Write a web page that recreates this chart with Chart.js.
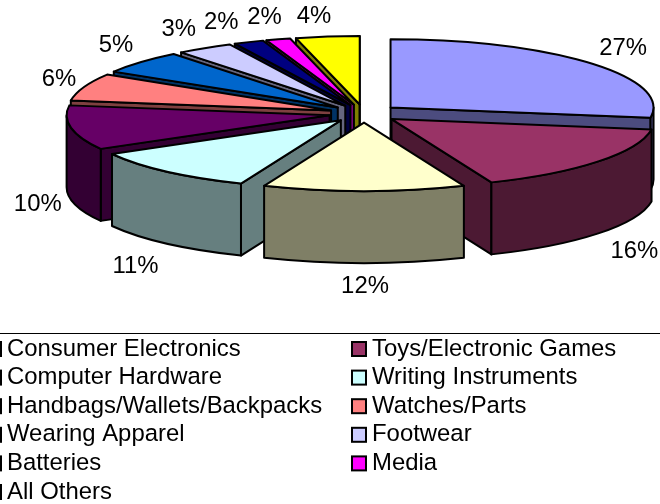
<!DOCTYPE html>
<html>
<head>
<meta charset="utf-8">
<style>
  html, body { margin: 0; padding: 0; background: #fff; }
  canvas { display: block; }
</style>
<script src="https://cdn.jsdelivr.net/npm/chart.js@4"></script>
</head>
<body>
<canvas id="chart" width="660" height="504" style="width:660px;height:504px"></canvas>
<script>
const categories = ['Consumer Electronics', 'Toys/Electronic Games', 'Computer Hardware', 'Writing Instruments',
    'Handbags/Wallets/Backpacks', 'Watches/Parts', 'Wearing Apparel', 'Footwear', 'Batteries', 'Media', 'All Others'];
const shares = [27.4, 16.4, 12.4, 10.6, 10.49, 6.49, 5.49, 3.48, 1.85, 1.5, 3.9];
const sliceColors = ['#9999FF', '#993366', '#FFFFCC', '#CCFFFF', '#660066', '#FF8080', '#0066CC', '#CCCCFF', '#000080', '#FF00FF', '#FFFF00'];

const FONT = '23.9px "Liberation Sans", Arial, sans-serif';
const TILT = 0.26;   // squash of the pie circle
const DEPTH = 72;    // height of the extrusion

// hand placed corrections to the percentage labels
const labelNudge = [[5, 0], [7, 4], [1, 1], [-7, 6], [3, 0], [10, 0], [3, -2], [-6, 0], [-13, 1], [-3, 0], [-9, 2]];

// side walls are the face colour at half brightness
const shade = hex => '#' + [1, 3, 5].map(i =>
    Math.floor(parseInt(hex.substr(i, 2), 16) / 2).toString(16).padStart(2, '0')).join('');

const pie3d = {
    id: 'pie3d',
    // takes over from the flat arcs, reading the geometry the controller worked out
    beforeDatasetsDraw(chart) {
        const { ctx } = chart;
        const arcs = chart.getDatasetMeta(0).data.map((arc, i) => {
            const { x, y, startAngle, endAngle, outerRadius } = arc.getProps(['x', 'y', 'startAngle', 'endAngle', 'outerRadius'], true);
            const mid = (startAngle + endAngle) / 2;
            const off = arc.options.offset;
            return { i, x: x + Math.cos(mid) * off, y: y + Math.sin(mid) * off * TILT, startAngle, endAngle, mid, r: outerRadius };
        });

        // back slices first, the front ones paint over them
        arcs.sort((a, b) => Math.sin(a.mid) - Math.sin(b.mid));

        ctx.save();
        ctx.lineWidth = 2;
        ctx.lineJoin = 'round';
        ctx.strokeStyle = '#000';
        arcs.forEach(a => {
            const face = sliceColors[a.i];
            const rim = t => [a.x + Math.cos(t) * a.r, a.y + Math.sin(t) * a.r * TILT];

            ctx.fillStyle = shade(face);
            // a cut face only shows when it turns towards us
            [[a.startAngle, Math.cos(a.startAngle) < 0], [a.endAngle, Math.cos(a.endAngle) > 0]].forEach(([t, visible]) => {
                if (!visible) return;
                const [px, py] = rim(t);
                ctx.beginPath();
                ctx.moveTo(a.x, a.y);
                ctx.lineTo(px, py);
                ctx.lineTo(px, py + DEPTH);
                ctx.lineTo(a.x, a.y + DEPTH);
                ctx.closePath();
                ctx.fill();
                ctx.stroke();
            });

            // outer wall only on the half of the rim facing us
            const from = Math.max(a.startAngle, 0);
            const to = Math.min(a.endAngle, Math.PI);
            if (to > from) {
                ctx.beginPath();
                ctx.ellipse(a.x, a.y, a.r, a.r * TILT, 0, from, to);
                ctx.ellipse(a.x, a.y + DEPTH, a.r, a.r * TILT, 0, to, from, true);
                ctx.closePath();
                ctx.fill();
                ctx.stroke();
            }

            ctx.fillStyle = face;
            ctx.beginPath();
            ctx.moveTo(a.x, a.y);
            ctx.ellipse(a.x, a.y, a.r, a.r * TILT, 0, a.startAngle, a.endAngle);
            ctx.closePath();
            ctx.fill();
            ctx.stroke();
        });
        ctx.restore();
        return false;
    },
    // a cancelled dataset draw skips afterDatasetsDraw, so labels and legend go here
    afterDraw(chart) {
        const { ctx } = chart;
        ctx.save();
        ctx.font = FONT;
        ctx.fillStyle = '#000';
        ctx.textAlign = 'center';
        ctx.textBaseline = 'middle';

        // percentage labels sit on a wider ellipse round the pie
        chart.getDatasetMeta(0).data.forEach((arc, i) => {
            const { x, y, startAngle, endAngle } = arc.getProps(['x', 'y', 'startAngle', 'endAngle'], true);
            const mid = (startAngle + endAngle) / 2;
            const drop = Math.sin(mid) > 0.05 ? DEPTH : 0;
            ctx.fillText(Math.round(shares[i]) + '%',
                x + Math.cos(mid) * 335 + labelNudge[i][0],
                y + Math.sin(mid) * 100 + drop + labelNudge[i][1]);
        });

        // legend: two columns, the left one runs off the edge of the picture
        ctx.strokeStyle = '#000';
        ctx.lineWidth = 1;
        ctx.beginPath();
        ctx.moveTo(0, 333.5);
        ctx.lineTo(660, 333.5);
        ctx.stroke();

        ctx.textAlign = 'left';
        ctx.lineWidth = 2;
        categories.forEach((name, i) => {
            const left = i % 2 === 0 ? -14 : 351;
            const cy = 349 + Math.floor(i / 2) * 28.6;
            ctx.fillStyle = sliceColors[i];
            ctx.fillRect(left + 1, cy - 7, 14, 14);
            ctx.strokeRect(left + 1, cy - 7, 14, 14);
            ctx.fillStyle = '#000';
            ctx.fillText(name, left + 21, cy);
        });
        ctx.restore();
    }
};

new Chart(document.getElementById('chart'), {
    type: 'pie',
    data: {
        labels: categories,
        datasets: [{
            data: shares,
            backgroundColor: sliceColors,
            borderColor: '#000',
            borderWidth: 2,
            offset: 35
        }]
    },
    options: {
        responsive: false,
        animation: false,
        devicePixelRatio: 1,
        radius: 263,
        layout: { padding: { left: 68, top: 0, right: 0, bottom: 277 } },
        plugins: {
            legend: { display: false },
            tooltip: { enabled: false }
        }
    },
    plugins: [pie3d]
});
</script>
</body>
</html>
